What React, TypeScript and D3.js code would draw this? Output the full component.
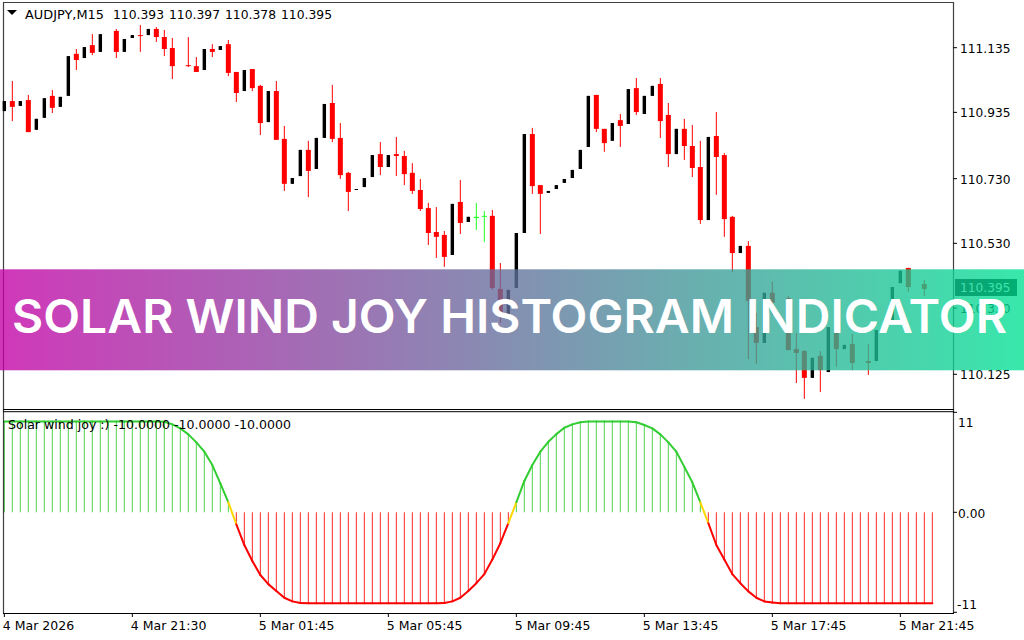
import React from 'react';
import * as d3 from 'd3';

// price pane
const priceTicks = [111.135, 110.935, 110.73, 110.53, 110.33, 110.125];
const lastPrice = 110.395;
const headerSymbol = 'AUDJPY,M15';
const headerValues = ['110.393', '110.397', '110.378', '110.395'];

// index in these arrays = bar number, null = nothing drawn for that bar
const opens = [
  110.939, 110.970, 110.955, 110.973, 110.881, 110.918, 110.986, 110.952, 110.986, 111.116,
  111.103, 111.143, 111.122, null, 111.187, 111.122, 111.165, 111.174, 111.174, 111.193,
  111.168, 111.134, null, 111.081, 111.078, 111.066, 111.131, 111.128, 111.146, 111.060,
  111.001, 111.069, 111.017, 110.905, 111.001, 110.853, 110.714, 110.738, 110.819, 110.760,
  110.856, 110.964, 110.856, 110.748, 110.695, 110.704, 110.735, 110.806, 110.766, 110.806,
  110.800, 110.748, 110.695, 110.639, 110.565, 110.556, 110.494, 110.658, 110.596, 110.612,
  110.615, 110.615, 110.389, 110.309, 110.392, 110.562, 110.868, 110.710, 110.686, 110.698,
  110.717, 110.732, 110.760, 110.828, 110.989, 110.884, 110.847, 110.911, 110.899, 111.010,
  110.930, 110.986, 111.023, 110.927, 110.806, 110.884, 110.831, 110.766, 110.602, 110.862,
  110.803, 110.612, 110.500, 110.522, 110.271, 110.222, 110.377, null, 110.361, 110.203,
  110.197, 110.114, 110.182, 110.132, 110.271, 110.203, 110.219, null, 110.166, 110.166,
  null, 110.293, 110.407, 110.454, null, 110.404,
];
const closes = [
  110.970, 110.952, 110.970, 110.874, 110.915, 110.979, 110.949, 110.983, 111.109, 111.097,
  111.137, 111.119, 111.177, null, 111.122, 111.162, 111.174, 111.171, 111.193, 111.168,
  111.131, 111.078, null, 111.078, 111.060, 111.131, 111.122, 111.140, 111.057, 110.995,
  111.066, 111.010, 110.902, 111.001, 110.850, 110.714, 110.732, 110.819, 110.754, 110.856,
  110.961, 110.853, 110.741, 110.689, 110.698, 110.732, 110.803, 110.766, 110.803, 110.800,
  110.744, 110.692, 110.636, 110.562, 110.550, 110.488, 110.652, 110.593, 110.612, 110.608,
  110.612, 110.392, 110.315, 110.386, 110.562, 110.868, 110.707, 110.683, 110.692, 110.710,
  110.729, 110.757, 110.819, 110.986, 110.884, 110.840, 110.902, 110.893, 111.007, 110.936,
  110.986, 111.017, 110.908, 110.806, 110.884, 110.831, 110.763, 110.602, 110.859, 110.797,
  110.605, 110.500, 110.522, 110.352, 110.222, 110.377, 110.346, null, 110.200, 110.191,
  110.114, 110.176, 110.138, 110.271, 110.203, 110.216, 110.160, null, 110.160, 110.262,
  null, 110.395, 110.445, 110.395, null, 110.389,
];
const highs = [
  110.970, 111.032, 110.970, 110.989, 110.915, 110.979, 111.004, 110.983, 111.109, 111.131,
  111.137, 111.177, 111.177, null, 111.193, 111.162, 111.174, 111.205, 111.193, 111.199,
  111.190, 111.165, null, 111.168, 111.106, 111.131, 111.146, 111.140, 111.159, 111.060,
  111.066, 111.069, 111.020, 111.001, 111.032, 110.893, 110.732, 110.819, 110.847, 110.856,
  110.961, 111.020, 110.902, 110.751, 110.698, 110.732, 110.803, 110.843, 110.803, 110.859,
  110.816, 110.778, 110.729, 110.655, 110.642, 110.568, 110.652, 110.726, 110.612, 110.655,
  110.630, 110.633, 110.469, 110.386, 110.562, 110.868, 110.887, 110.710, 110.692, 110.710,
  110.729, 110.757, 110.819, 110.986, 110.989, 110.884, 110.902, 110.930, 111.007, 111.041,
  110.986, 111.017, 111.041, 110.964, 110.884, 110.915, 110.896, 110.847, 110.859, 110.936,
  110.809, 110.615, 110.522, 110.537, 110.315, 110.377, 110.411, null, 110.367, 110.253,
  110.200, 110.176, 110.197, 110.271, 110.271, 110.216, 110.250, null, 110.219, 110.262,
  null, 110.395, 110.445, 110.454, null, 110.417,
];
const lows = [
  110.939, 110.908, 110.955, 110.874, 110.881, 110.918, 110.933, 110.952, 110.986, 111.066,
  111.103, 111.112, 111.122, null, 111.103, 111.122, 111.165, 111.122, 111.174, 111.153,
  111.109, 111.038, null, 111.075, 111.060, 111.066, 111.106, 111.128, 111.047, 110.967,
  111.001, 111.001, 110.865, 110.905, 110.850, 110.692, 110.714, 110.738, 110.673, 110.760,
  110.856, 110.843, 110.729, 110.630, 110.695, 110.704, 110.735, 110.741, 110.766, 110.738,
  110.710, 110.683, 110.630, 110.525, 110.485, 110.457, 110.494, 110.559, 110.596, 110.571,
  110.534, 110.386, 110.284, 110.309, 110.392, 110.562, 110.683, 110.559, 110.686, 110.698,
  110.717, 110.732, 110.760, 110.828, 110.874, 110.813, 110.847, 110.828, 110.899, 110.927,
  110.930, 110.986, 110.856, 110.766, 110.806, 110.788, 110.735, 110.590, 110.602, 110.680,
  110.550, 110.441, 110.500, 110.172, 110.157, 110.222, 110.309, null, 110.200, 110.098,
  110.049, 110.114, 110.070, 110.132, 110.148, 110.203, 110.138, null, 110.123, 110.166,
  null, 110.293, 110.407, 110.380, null, 110.367,
];
const greenBars = [59, 60];

// indicator pane, one value per bar
const joyValues = [
  10, 10, 10, 10, 10, 10, 10, 10, 10, 10,
  10, 10, 10, 10, 10, 10, 10, 10, 10, 10,
  9.96, 9.67, 9.23, 8.57, 7.69, 6.67, 5.2, 3.19, 1.1, -1.32,
  -3.6, -5.35, -6.9, -7.9, -8.65, -9.4, -9.8, -9.97, -10, -10,
  -10, -10, -10, -10, -10, -10, -10, -10, -10, -10,
  -10, -10, -10, -10, -10, -9.97, -9.8, -9.4, -8.65, -7.8,
  -6.8, -5.2, -3.4, -1.2, 1.1, 3.45, 5.2, 6.67, 7.76, 8.6,
  9.3, 9.67, 9.9, 10, 10, 10, 10, 10, 10, 9.9,
  9.6, 9.23, 8.57, 7.69, 6.67, 5.0, 3.3, 1.1, -1.2, -3.6,
  -5.2, -6.8, -7.8, -8.7, -9.4, -9.8, -9.93, -10, -10, -10,
  -10, -10, -10, -10, -10, -10, -10, -10, -10, -10,
  -10, -10, -10, -10, -10, -10, -10,
];
const joyTicks = [11, 0, -11];
const joyTickLabels = ['11', '0.00', '-11'];
const joyLegend = 'Solar wind joy :) -10.0000 -10.0000 -10.0000';

// time axis, labelled every 16 bars
const timeLabels = ['4 Mar 2026', '4 Mar 21:30', '5 Mar 01:45', '5 Mar 05:45', '5 Mar 09:45', '5 Mar 13:45', '5 Mar 17:45', '5 Mar 21:45'];
const timeLabelEvery = 16;

const bannerTitle = 'SOLAR WIND JOY HISTOGRAM INDICATOR';

const width = 1024;
const height = 640;
const left = 3;
const right = 953;
const font = '"DejaVu Sans", sans-serif';

const x = d3.scaleLinear().domain([0, 116]).range([4.33, 932.33]);
const yPrice = d3.scaleLinear().domain([111.135, 110.125]).range([47.7, 374.3]);
const yJoy = d3.scaleLinear().domain([11, -11]).range([412.3, 612.3]);

function curveColor(a: number, b: number) {
  if (a * b < 0) return '#ffd700';
  return a > 0 ? '#32cd32' : '#ff0000';
}

function Candles() {
  return (
    <g>
      {opens.map((o, i) => {
        const c = closes[i];
        const h = highs[i];
        const l = lows[i];
        if (o === null || c === null || h === null || l === null) return null;
        const green = greenBars.includes(i);
        const red = c < o;
        const color = green ? '#22ff22' : red ? '#ff0000' : '#000000';
        const bodyW = green ? 5 : red ? 5 : 3.4;
        const top = yPrice(Math.max(o, c));
        const bodyH = Math.max(1, Math.abs(yPrice(o) - yPrice(c)));
        return (
          <g key={i}>
            <line x1={x(i)} x2={x(i)} y1={yPrice(h)} y2={yPrice(l)} stroke={color} strokeWidth={1} />
            <rect x={x(i) - bodyW / 2} y={top} width={bodyW} height={bodyH} fill={color} />
          </g>
        );
      })}
    </g>
  );
}

function Histogram() {
  return (
    <g>
      {joyValues.map((v, i) => (
        <line
          key={i}
          x1={x(i)}
          x2={x(i)}
          y1={yJoy(0)}
          y2={yJoy(v)}
          stroke={v > 0 ? '#32cd32' : '#ff0000'}
          strokeOpacity={0.85}
          strokeWidth={1}
        />
      ))}
      {joyValues.slice(1).map((v, i) => {
        const prev = joyValues[i];
        return (
          <line
            key={i}
            x1={x(i)}
            x2={x(i + 1)}
            y1={yJoy(prev)}
            y2={yJoy(v)}
            stroke={curveColor(prev, v)}
            strokeWidth={2}
            strokeLinecap="round"
          />
        );
      })}
    </g>
  );
}

export default function App() {
  return (
    <div style={{ position: 'fixed', left: 0, top: 0, width, height, background: '#fff' }}>
      <svg width={width} height={height} style={{ display: 'block' }} fontFamily={font}>
        <defs>
          <linearGradient id="banner" x1="0" x2="1" y1="0" y2="0">
            <stop offset="0" stopColor="#c300a5" />
            <stop offset="1" stopColor="#00e193" />
          </linearGradient>
        </defs>
        <rect width={width} height={height} fill="#fff" />

        <Candles />
        <Histogram />

        {/* frames */}
        <g stroke="#000" fill="none">
          <path d={`M${left + 0.5},613.5V2.5H${right + 0.5}V613.5`} strokeOpacity={0.75} strokeWidth={1.2} />
          <line x1={left} x2={right + 1} y1={409.5} y2={409.5} />
          <line x1={left} x2={right + 1} y1={411.7} y2={411.7} />
          <line x1={left} x2={right + 1} y1={613.5} y2={613.5} />
        </g>

        {/* header */}
        <path d="M7,10H17L12,15Z" fill="#000" />
        <text x={25} y={18.5} fontSize={12.2} fill="#000" textLength={79} lengthAdjust="spacingAndGlyphs">{headerSymbol}</text>
        {headerValues.map((v, i) => (
          <text key={v} x={113 + i * 56} y={18.5} fontSize={12.2} fill="#000" textLength={51} lengthAdjust="spacingAndGlyphs">{v}</text>
        ))}
        <text x={8} y={428.5} fontSize={12.2} fill="#000" textLength={283} lengthAdjust="spacingAndGlyphs">{joyLegend}</text>

        {/* price axis */}
        {priceTicks.map(t => (
          <g key={t}>
            <line x1={right} x2={right + 4} y1={yPrice(t)} y2={yPrice(t)} stroke="#000" />
            <text x={960} y={yPrice(t) + 5} fontSize={12.2} fill="#000">{t.toFixed(3)}</text>
          </g>
        ))}
        <rect x={955} y={279} width={62} height={17} fill="#000" />
        <text x={960} y={yPrice(lastPrice) + 5} fontSize={12.2} fill="#fff">{lastPrice.toFixed(3)}</text>

        {/* indicator axis */}
        {joyTicks.map((t, i) => (
          <g key={t}>
            <line x1={right} x2={right + 4} y1={yJoy(t)} y2={yJoy(t)} stroke="#000" />
            <text x={i === 2 ? 957 : 958} y={yJoy(t) + (i === 0 ? 14.5 : i === 1 ? 5.5 : -3.5)} fontSize={12.2} fill="#000">{joyTickLabels[i]}</text>
          </g>
        ))}

        {/* time axis */}
        {timeLabels.map((t, i) => (
          <g key={t}>
            <line x1={x(i * timeLabelEvery)} x2={x(i * timeLabelEvery)} y1={613} y2={617} stroke="#000" />
            <text x={x(i * timeLabelEvery) - 1.5} y={630} fontSize={12.5} fill="#000">{t}</text>
          </g>
        ))}

        {/* banner */}
        <rect x={0} y={269.3} width={width} height={101} fill="url(#banner)" fillOpacity={0.78} />
        <text
          x={12}
          y={333}
          fontFamily="Inter, sans-serif"
          fontWeight={600}
          fontSize={46}
          fill="#fff"
          textLength={995}
          lengthAdjust="spacingAndGlyphs"
        >
          {bannerTitle}
        </text>
      </svg>
    </div>
  );
}
